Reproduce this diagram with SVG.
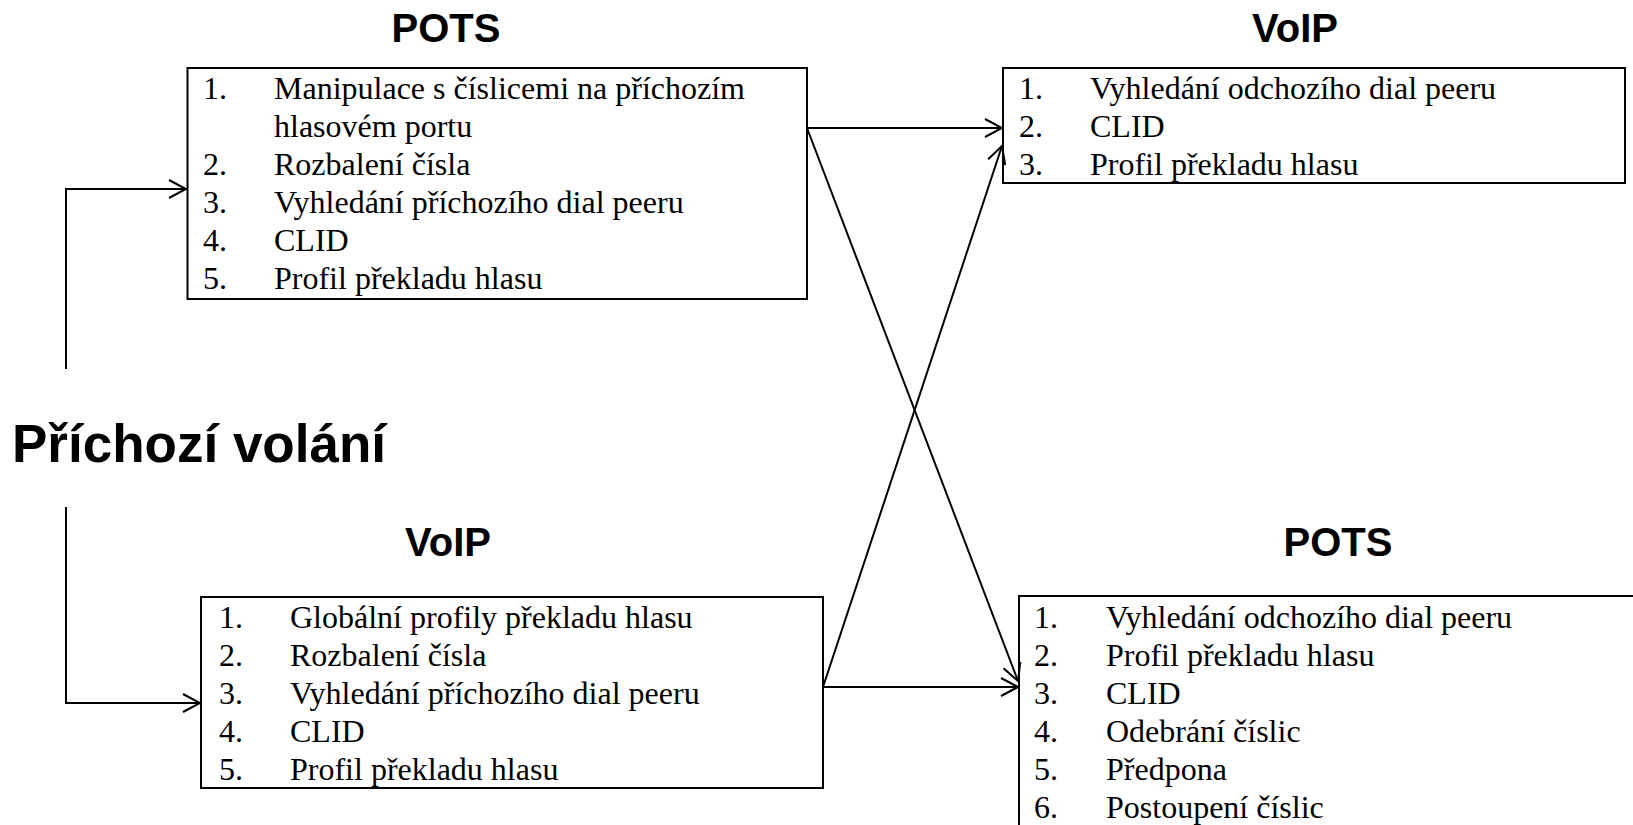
<svg xmlns="http://www.w3.org/2000/svg" width="1633" height="825" viewBox="0 0 1633 825">
  <style>
    .box { fill: #ffffff; stroke: #000000; stroke-width: 2; }
    .title { font-family: "Liberation Sans", Arial, sans-serif; font-weight: bold; font-size: 40px; fill: #000000; text-anchor: middle; }
    .main { font-family: "Liberation Sans", Arial, sans-serif; font-weight: bold; font-size: 53px; fill: #000000; }
    .item { font-family: "Liberation Serif", "Times New Roman", serif; font-size: 32px; fill: #000000; }
    .conn { fill: none; stroke: #000000; stroke-width: 2; }
  </style>
  <defs>
    <marker id="arrow" viewBox="0 0 20 20" refX="18" refY="10" markerWidth="20" markerHeight="20" markerUnits="userSpaceOnUse" orient="auto">
      <path d="M1,1 L18,10 L1,19" fill="none" stroke="#000000" stroke-width="2"/>
    </marker>
  </defs>
  <rect width="1633" height="825" fill="#ffffff"/>

  <!-- caller side label -->
  <g id="incoming">
    <text class="main" x="12" y="462">Příchozí volání</text>
  </g>

  <!-- inbound POTS leg -->
  <g id="pots-in">
    <text class="title" x="446" y="42">POTS</text>
    <rect class="box" x="187.5" y="68" width="619.5" height="231"/>
    <g class="item">
      <text x="203" y="99">1.</text><text x="274" y="99">Manipulace s číslicemi na příchozím</text>
      <text x="274" y="137">hlasovém portu</text>
      <text x="203" y="175">2.</text><text x="274" y="175">Rozbalení čísla</text>
      <text x="203" y="213">3.</text><text x="274" y="213">Vyhledání příchozího dial peeru</text>
      <text x="203" y="251">4.</text><text x="274" y="251">CLID</text>
      <text x="203" y="289">5.</text><text x="274" y="289">Profil překladu hlasu</text>
    </g>
  </g>

  <!-- outbound VoIP leg -->
  <g id="voip-out">
    <text class="title" x="1295" y="42">VoIP</text>
    <rect class="box" x="1003" y="68" width="622" height="115"/>
    <g class="item">
      <text x="1019" y="99">1.</text><text x="1090" y="99">Vyhledání odchozího dial peeru</text>
      <text x="1019" y="137">2.</text><text x="1090" y="137">CLID</text>
      <text x="1019" y="175">3.</text><text x="1090" y="175">Profil překladu hlasu</text>
    </g>
  </g>

  <!-- inbound VoIP leg -->
  <g id="voip-in">
    <text class="title" x="448" y="556">VoIP</text>
    <rect class="box" x="201" y="597" width="622" height="191"/>
    <g class="item">
      <text x="219" y="628">1.</text><text x="290" y="628">Globální profily překladu hlasu</text>
      <text x="219" y="666">2.</text><text x="290" y="666">Rozbalení čísla</text>
      <text x="219" y="704">3.</text><text x="290" y="704">Vyhledání příchozího dial peeru</text>
      <text x="219" y="742">4.</text><text x="290" y="742">CLID</text>
      <text x="219" y="780">5.</text><text x="290" y="780">Profil překladu hlasu</text>
    </g>
  </g>

  <!-- outbound POTS leg -->
  <g id="pots-out">
    <text class="title" x="1338" y="556">POTS</text>
    <rect class="box" x="1019" y="596" width="640" height="250"/>
    <g class="item">
      <text x="1034" y="628">1.</text><text x="1106" y="628">Vyhledání odchozího dial peeru</text>
      <text x="1034" y="666">2.</text><text x="1106" y="666">Profil překladu hlasu</text>
      <text x="1034" y="704">3.</text><text x="1106" y="704">CLID</text>
      <text x="1034" y="742">4.</text><text x="1106" y="742">Odebrání číslic</text>
      <text x="1034" y="780">5.</text><text x="1106" y="780">Předpona</text>
      <text x="1034" y="818">6.</text><text x="1106" y="818">Postoupení číslic</text>
    </g>
  </g>

  <g id="connectors">
    <path class="conn" d="M66,369 V189 H186" marker-end="url(#arrow)"/>
    <path class="conn" d="M66,507 V703 H200" marker-end="url(#arrow)"/>
    <path class="conn" d="M807,128 H1002" marker-end="url(#arrow)"/>
    <path class="conn" d="M807,128 L1018,681" marker-end="url(#arrow)"/>
    <path class="conn" d="M823,687 H1018" marker-end="url(#arrow)"/>
    <path class="conn" d="M823,687 L1002,146" marker-end="url(#arrow)"/>
  </g>
</svg>
